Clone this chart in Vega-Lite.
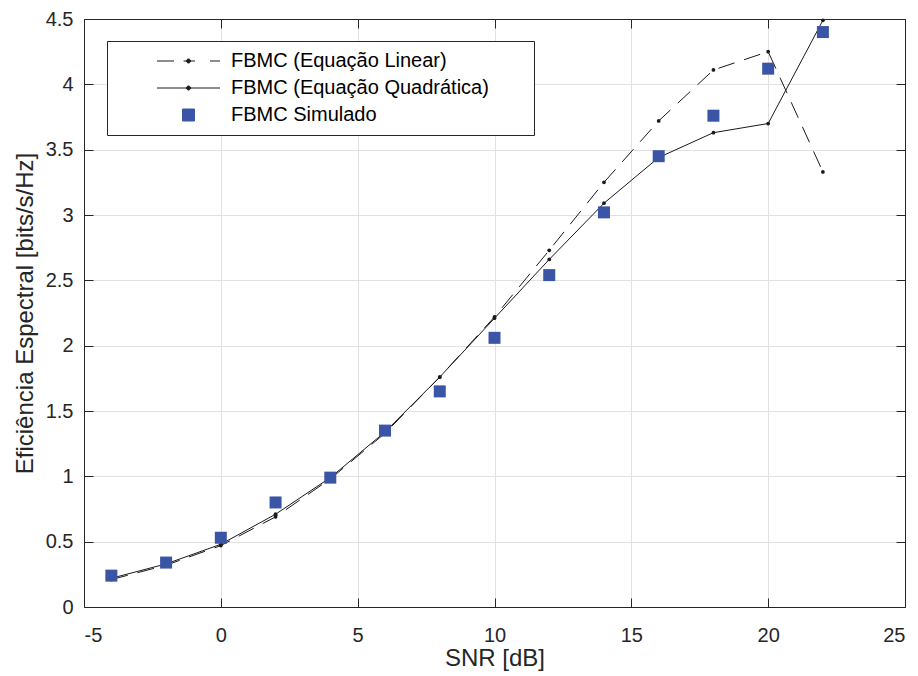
{
  "$schema": "https://vega.github.io/schema/vega-lite/v6.json",
  "width": 821,
  "height": 588,
  "autosize": "none",
  "padding": {"left": 84, "top": 19, "right": 13, "bottom": 69},
  "background": "white",
  "config": {
    "view": {"stroke": null},
    "font": "Liberation Sans",
    "axis": {
      "domainColor": "#262626",
      "domainWidth": 1,
      "tickColor": "#262626",
      "tickSize": -9,
      "labelColor": "#262626",
      "labelFont": "Liberation Sans",
      "labelFontSize": 20,
      "titleFont": "Liberation Sans",
      "titleFontSize": 24,
      "titleFontWeight": "normal",
      "titleColor": "#262626",
      "gridColor": "#e1e1e1",
      "gridWidth": 1
    }
  },
  "data": {
    "values": [
      {"x": -4, "y": 0.21, "series": "FBMC (Equação Linear)"},
      {"x": -2, "y": 0.32, "series": "FBMC (Equação Linear)"},
      {"x": 0, "y": 0.47, "series": "FBMC (Equação Linear)"},
      {"x": 2, "y": 0.69, "series": "FBMC (Equação Linear)"},
      {"x": 4, "y": 0.98, "series": "FBMC (Equação Linear)"},
      {"x": 6, "y": 1.33, "series": "FBMC (Equação Linear)"},
      {"x": 8, "y": 1.76, "series": "FBMC (Equação Linear)"},
      {"x": 10, "y": 2.22, "series": "FBMC (Equação Linear)"},
      {"x": 12, "y": 2.73, "series": "FBMC (Equação Linear)"},
      {"x": 14, "y": 3.25, "series": "FBMC (Equação Linear)"},
      {"x": 16, "y": 3.72, "series": "FBMC (Equação Linear)"},
      {"x": 18, "y": 4.11, "series": "FBMC (Equação Linear)"},
      {"x": 20, "y": 4.25, "series": "FBMC (Equação Linear)"},
      {"x": 22, "y": 3.33, "series": "FBMC (Equação Linear)"},
      {"x": -4, "y": 0.22, "series": "FBMC (Equação Quadrática)"},
      {"x": -2, "y": 0.33, "series": "FBMC (Equação Quadrática)"},
      {"x": 0, "y": 0.48, "series": "FBMC (Equação Quadrática)"},
      {"x": 2, "y": 0.71, "series": "FBMC (Equação Quadrática)"},
      {"x": 4, "y": 0.99, "series": "FBMC (Equação Quadrática)"},
      {"x": 6, "y": 1.34, "series": "FBMC (Equação Quadrática)"},
      {"x": 8, "y": 1.76, "series": "FBMC (Equação Quadrática)"},
      {"x": 10, "y": 2.21, "series": "FBMC (Equação Quadrática)"},
      {"x": 12, "y": 2.66, "series": "FBMC (Equação Quadrática)"},
      {"x": 14, "y": 3.09, "series": "FBMC (Equação Quadrática)"},
      {"x": 16, "y": 3.44, "series": "FBMC (Equação Quadrática)"},
      {"x": 18, "y": 3.63, "series": "FBMC (Equação Quadrática)"},
      {"x": 20, "y": 3.70, "series": "FBMC (Equação Quadrática)"},
      {"x": 22, "y": 4.49, "series": "FBMC (Equação Quadrática)"},
      {"x": -4, "y": 0.24, "series": "FBMC Simulado"},
      {"x": -2, "y": 0.34, "series": "FBMC Simulado"},
      {"x": 0, "y": 0.53, "series": "FBMC Simulado"},
      {"x": 2, "y": 0.80, "series": "FBMC Simulado"},
      {"x": 4, "y": 0.99, "series": "FBMC Simulado"},
      {"x": 6, "y": 1.35, "series": "FBMC Simulado"},
      {"x": 8, "y": 1.65, "series": "FBMC Simulado"},
      {"x": 10, "y": 2.06, "series": "FBMC Simulado"},
      {"x": 12, "y": 2.54, "series": "FBMC Simulado"},
      {"x": 14, "y": 3.02, "series": "FBMC Simulado"},
      {"x": 16, "y": 3.45, "series": "FBMC Simulado"},
      {"x": 18, "y": 3.76, "series": "FBMC Simulado"},
      {"x": 20, "y": 4.12, "series": "FBMC Simulado"},
      {"x": 22, "y": 4.40, "series": "FBMC Simulado"}
    ]
  },
  "resolve": {"axis": {"x": "independent", "y": "independent"}},
  "layer": [
    {
      "transform": [{"filter": "datum.series === 'FBMC (Equação Linear)'"}],
      "mark": {"type": "line", "color": "#1a1a1a", "strokeWidth": 1, "strokeDash": [17, 10], "clip": true},
      "encoding": {
        "x": {"field": "x", "type": "quantitative", "scale": {"domain": [-5, 25], "nice": false},
          "axis": {"orient": "bottom", "title": "SNR [dB]", "values": [-5, 0, 5, 10, 15, 20, 25], "labelExpr": "datum.value + ''", "labelPadding": 27, "titlePadding": 1, "grid": true}},
        "y": {"field": "y", "type": "quantitative", "scale": {"domain": [0, 4.5], "nice": false, "zero": false},
          "axis": {"orient": "left", "title": "Eficiência Espectral [bits/s/Hz]", "values": [0, 0.5, 1, 1.5, 2, 2.5, 3, 3.5, 4, 4.5], "format": "~g", "labelPadding": 20, "titlePadding": 8, "grid": true}}
      }
    },
    {
      "transform": [{"filter": "datum.series === 'FBMC (Equação Quadrática)'"}],
      "mark": {"type": "line", "color": "#1a1a1a", "strokeWidth": 1, "clip": true},
      "encoding": {
        "x": {"field": "x", "type": "quantitative", "scale": {"domain": [-5, 25], "nice": false},
          "axis": {"orient": "top", "title": null, "labels": false, "grid": false, "values": [-5, 0, 5, 10, 15, 20, 25]}},
        "y": {"field": "y", "type": "quantitative", "scale": {"domain": [0, 4.5], "nice": false, "zero": false},
          "axis": {"orient": "right", "title": null, "labels": false, "grid": false, "values": [0, 0.5, 1, 1.5, 2, 2.5, 3, 3.5, 4, 4.5]}}
      }
    },
    {
      "transform": [{"filter": "datum.series !== 'FBMC Simulado'"}],
      "mark": {"type": "point", "filled": true, "shape": "circle", "size": 14, "color": "#1a1a1a", "opacity": 1},
      "encoding": {
        "x": {"field": "x", "type": "quantitative", "axis": null},
        "y": {"field": "y", "type": "quantitative", "axis": null}
      }
    },
    {
      "transform": [{"filter": "datum.series === 'FBMC Simulado'"}],
      "mark": {"type": "square", "size": 144, "color": "#3a54a6", "opacity": 1},
      "encoding": {
        "x": {"field": "x", "type": "quantitative", "axis": null},
        "y": {"field": "y", "type": "quantitative", "axis": null}
      }
    },
    {
      "transform": [{"filter": "datum.x > 1000"}],
      "mark": {"type": "point", "filled": true, "size": 256, "opacity": 1, "strokeWidth": 1},
      "encoding": {
        "x": {"field": "x", "type": "quantitative", "axis": null},
        "y": {"field": "y", "type": "quantitative", "axis": null},
        "shape": {"field": "series", "type": "nominal",
          "scale": {"domain": ["FBMC (Equação Linear)", "FBMC (Equação Quadrática)", "FBMC Simulado"],
            "range": [
              "M-3.94,0H-1.81M-0.62,0H0.81M2.69,0H3.94M-0.25,0A0.25,0.25 0 1,0 0.25,0A0.25,0.25 0 1,0 -0.25,0ZM41.6,0",
              "M-3.94,0H3.94M-0.25,0A0.25,0.25 0 1,0 0.25,0A0.25,0.25 0 1,0 -0.25,0ZM41.6,0",
              "M-0.75,-0.75H0.75V0.75H-0.75ZM41.6,0"
            ]},
          "legend": {
            "title": null,
            "orient": "none",
            "legendX": 23,
            "legendY": 22,
            "fillColor": "white",
            "strokeColor": "#262626",
            "padding": 10,
            "symbolSize": 256,
            "symbolStrokeWidth": 1,
            "symbolOffset": 61.5,
            "labelOffset": 32.5,
            "labelFont": "Liberation Sans",
            "labelFontSize": 20,
            "labelColor": "#000000",
            "labelLimit": 400,
            "rowPadding": 7
          }},
        "fill": {"field": "series", "type": "nominal",
          "scale": {"domain": ["FBMC (Equação Linear)", "FBMC (Equação Quadrática)", "FBMC Simulado"], "range": ["#1a1a1a", "#1a1a1a", "#3a54a6"]}},
        "stroke": {"field": "series", "type": "nominal",
          "scale": {"domain": ["FBMC (Equação Linear)", "FBMC (Equação Quadrática)", "FBMC Simulado"], "range": ["#1a1a1a", "#1a1a1a", "#3a54a6"]}}
      }
    }
  ]
}
